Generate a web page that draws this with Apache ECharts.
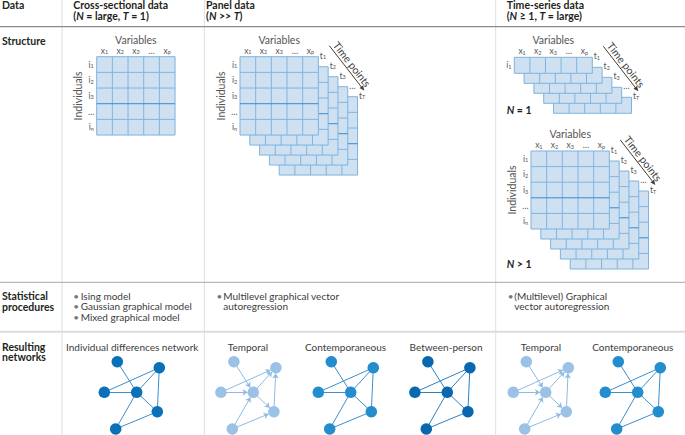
<!DOCTYPE html>
<html><head><meta charset="utf-8">
<script src="https://cdn.jsdelivr.net/npm/echarts@6/dist/echarts.min.js"></script>
<style>html,body{margin:0;padding:0;background:#fff}#c{width:685px;height:435px}</style>
</head><body><div id="c"></div>
<script>
// ---------------- data ----------------
const columnHeaders = ['Data', 'Cross-sectional data', 'Panel data', 'Time-series data'];
const columnConditions = ['', '({i|N} = large, {i|T} = 1)', '({i|N} >> {i|T})', '({i|N} ≥ 1, {i|T} = large)'];
const rowHeaders = ['Structure', 'Statistical\nprocedures', 'Resulting\nnetworks'];
const crossProcedures = ['Ising model', 'Gaussian graphical model', 'Mixed graphical model'];
const panelProcedures = ['Multilevel graphical vector', 'autoregression'];
const timeSeriesProcedures = ['(Multilevel) Graphical', 'vector autoregression'];
const variableLabels = ['x1', 'x2', 'x3', '…', 'xp'];
const individualLabels = ['i1', 'i2', 'i3', '…', 'in'];
const singleIndividualLabels = ['i1'];
const timeLabels = ['t1', 't2', 't3', '…', 'tT'];
const sampleLabels = ['{i|N} = 1', '{i|N} > 1'];
const networkTitles = ['Individual differences network', 'Temporal', 'Contemporaneous', 'Between-person', 'Temporal', 'Contemporaneous'];
const nodeNames = ['A', 'B', 'L', 'C', 'R', 'D'];
const nodeX = [-1.94, 2.26, -3.24, 0, 2.06, -2.1];
const nodeY = [3.06, 2.46, 0, 0, -1.94, -3.67];
const undirectedEdges = [['A','C'],['L','C'],['L','B'],['C','B'],['B','R'],['C','R'],['C','D'],['D','R']];
const temporalEdges = [['A','C'],['L','C'],['L','B'],['C','B'],['R','B'],['C','R'],['D','C'],['D','R']];

// ---------------- layout / style ----------------
const FONT = 'Lato, "Open Sans", sans-serif';
const INK = '#231f20';
const TXT = '#3c3c3c';
const LBL = '#555555';
const OFFX = 9.8, OFFY = 10;
const blocks = [
  {left: 96.7, top: 56.7, cw: 15.67, ch: 15.67, rows: individualLabels, layers: 1, individuals: true},
  {left: 240, top: 56.7, cw: 15.67, ch: 15.67, rows: individualLabels, layers: timeLabels.length, individuals: true},
  {left: 514.3, top: 57.3, cw: 15.6, ch: 16, rows: singleIndividualLabels, layers: timeLabels.length, individuals: false},
  {left: 531, top: 151, cw: 15.67, ch: 15.6, rows: individualLabels, layers: timeLabels.length, individuals: true}
];
const networkCenters = [136.7, 253.3, 350.7, 447.3, 545.7, 637.7];
const networkTitleX = [132.2, 248, 345.5, 446, 541, 632.8];
const networkStyles = [
  {edges: undirectedEdges, directed: false, node: '#0a71b9', edge: '#3a8ecf'},
  {edges: temporalEdges, directed: true, node: '#9cc1e6', edge: '#8dbbe5'},
  {edges: undirectedEdges, directed: false, node: '#238dcd', edge: '#3a90cf'},
  {edges: undirectedEdges, directed: false, node: '#0867af', edge: '#2a82c6'},
  {edges: temporalEdges, directed: true, node: '#9cc1e6', edge: '#8dbbe5'},
  {edges: undirectedEdges, directed: false, node: '#238dcd', edge: '#3a90cf'}
];

function subText(lab) { return lab.length === 2 ? lab[0] + '{s|' + lab[1] + '}' : lab; }
const subRich = {s: {fontSize: 5.5, fontFamily: FONT, fill: LBL, verticalAlign: 'bottom', lineHeight: 6, padding: [5, 0, 0, 0]}};

const grids = [], xAxes = [], yAxes = [], series = [];
blocks.forEach((b, gi) => {
  const cols = variableLabels.length, rows = b.rows.length, L = b.layers;
  const ox = OFFX / b.cw, oy = OFFY / b.ch;
  grids.push({left: b.left, top: b.top, width: cols * b.cw + (L - 1) * OFFX, height: rows * b.ch + (L - 1) * OFFY});
  xAxes.push({type: 'value', gridIndex: gi, min: 0, max: cols + (L - 1) * ox, show: false});
  yAxes.push({type: 'value', gridIndex: gi, min: 0, max: rows + (L - 1) * oy, inverse: true, show: false});
  const data = [];
  for (let k = L - 1; k >= 0; k--) data.push([k]);
  series.push({
    type: 'custom', coordinateSystem: 'cartesian2d', xAxisIndex: gi, yAxisIndex: gi,
    silent: true, clip: false, animation: false, data,
    renderItem: (params, api) => {
      const k = api.value(0);
      const zb = (L - k) * 20;
      const dx = k * ox, dy = k * oy;
      const p0 = api.coord([dx, dy]);
      const p1 = api.coord([dx + cols, dy + rows]);
      const ch = [];
      ch.push({type: 'rect', z2: zb, shape: {x: p0[0], y: p0[1], width: p1[0] - p0[0], height: p1[1] - p0[1]},
        style: {fill: '#cfe0f1', stroke: '#7db3df', lineWidth: 1}});
      for (let c = 1; c < cols; c++) {
        const a = api.coord([dx + c, dy]), e = api.coord([dx + c, dy + rows]);
        ch.push({type: 'line', z2: zb + 1, shape: {x1: a[0], y1: a[1], x2: e[0], y2: e[1]}, style: {stroke: '#7fb5e0', lineWidth: 1}});
      }
      for (let r = 1; r < rows; r++) {
        const a = api.coord([dx, dy + r]), e = api.coord([dx + cols, dy + r]);
        ch.push({type: 'line', z2: zb + 2, shape: {x1: a[0], y1: a[1], x2: e[0], y2: e[1]},
          style: {stroke: r === 3 ? '#3a89cc' : '#7fb5e0', lineWidth: 1}});
      }
      if (L > 1) {
        ch.push({type: 'text', z2: zb + 3, x: p1[0] + 1.5, y: p0[1] - 1,
          style: {text: subText(timeLabels[k]), font: '8.5px ' + FONT, fill: LBL, align: 'left', verticalAlign: 'middle', rich: subRich}});
      }
      if (k === 0) {
        ch.push({type: 'text', z2: 200, x: (p0[0] + p1[0]) / 2, y: p0[1] - 17,
          style: {text: 'Variables', font: '10.5px ' + FONT, fill: LBL, align: 'center', verticalAlign: 'middle'}});
        variableLabels.forEach((v, c) => {
          const q = api.coord([c + 0.5, 0]);
          ch.push({type: 'text', z2: 200, x: q[0], y: q[1] - 6,
            style: {text: subText(v), font: '8.5px ' + FONT, fill: LBL, align: 'center', verticalAlign: 'middle', rich: subRich}});
        });
        b.rows.forEach((v, r) => {
          const q = api.coord([0, r + 0.5]);
          ch.push({type: 'text', z2: 200, x: q[0] - 5.5, y: q[1],
            style: {text: subText(v), font: '8.5px ' + FONT, fill: LBL, align: 'center', verticalAlign: 'middle', rich: subRich}});
        });
        if (b.individuals) {
          ch.push({type: 'text', z2: 200, x: p0[0] - 19, y: (p0[1] + p1[1]) / 2, rotation: Math.PI / 2,
            style: {text: 'Individuals', font: '10.5px ' + FONT, fill: LBL, align: 'center', verticalAlign: 'middle'}});
        }
        if (L > 1) {
          const sx = p1[0] + 11, sy = p0[1] - 11, ex = p1[0] + 46, ey = p0[1] + 34;
          const ang = Math.atan2(ey - sy, ex - sx);
          const ux = Math.cos(ang), uy = Math.sin(ang);
          ch.push({type: 'line', z2: 200, shape: {x1: sx, y1: sy, x2: ex - ux * 3, y2: ey - uy * 3}, style: {stroke: '#3d3d3d', lineWidth: 1}});
          ch.push({type: 'polygon', z2: 200, shape: {points: [[ex, ey], [ex - ux * 5 - uy * 2.2, ey - uy * 5 + ux * 2.2], [ex - ux * 5 + uy * 2.2, ey - uy * 5 - ux * 2.2]]}, style: {fill: '#3d3d3d'}});
          const mx = (sx + ex) / 2 + uy * 6.5, my = (sy + ey) / 2 - ux * 6.5;
          ch.push({type: 'text', z2: 200, x: mx, y: my, rotation: -ang,
            style: {text: 'Time points', font: '10.5px ' + FONT, fill: '#3d3d3d', align: 'center', verticalAlign: 'middle'}});
        }
      }
      return {type: 'group', children: ch};
    }
  });
});

networkCenters.forEach((cx, ni) => {
  const gi = blocks.length + ni;
  const st = networkStyles[ni];
  grids.push({left: cx - 40, top: 352.3, width: 80, height: 80});
  xAxes.push({type: 'value', gridIndex: gi, min: -4, max: 4, show: false});
  yAxes.push({type: 'value', gridIndex: gi, min: -4, max: 4, show: false});
  series.push({
    type: 'graph', coordinateSystem: 'cartesian2d', xAxisIndex: gi, yAxisIndex: gi,
    silent: true, animation: false, symbolSize: 11.5,
    edgeSymbol: st.directed ? ['none', 'arrow'] : ['none', 'none'], edgeSymbolSize: [0, 5],
    itemStyle: {color: st.node},
    lineStyle: {color: st.edge, width: 1, opacity: 1, curveness: 0},
    label: {show: false},
    data: nodeNames.map((n, i) => ({name: n, value: [nodeX[i], nodeY[i]]})),
    links: st.edges.map(e => ({source: e[0], target: e[1]}))
  });
});

// ---------------- table graphics ----------------
const g = [];
function txt(x, y, text, o) {
  g.push({type: 'text', x, y, silent: true, style: Object.assign({text, font: '10px ' + FONT, fill: TXT, align: 'left', verticalAlign: 'middle'}, o || {})});
}
function ln(x1, y1, x2, y2, color, w) {
  g.push({type: 'line', silent: true, shape: {x1, y1, x2, y2}, style: {stroke: color, lineWidth: w}});
}
[62, 204.3, 495.7].forEach(x => ln(x, 0, x, 435, '#dedede', 1));
ln(0, 26.7, 685, 26.7, '#8c8c8c', 1.2);
ln(0, 282.3, 685, 282.3, '#a8a8a8', 1);
ln(0, 331.8, 685, 331.8, '#dcdcdc', 2);

const headerX = [2, 73.3, 206, 506.7];
const boldRich = {i: {fontStyle: 'italic', fontWeight: 'bold', fontFamily: FONT, fontSize: 10.5, fill: INK}};
columnHeaders.forEach((h, i) => {
  txt(headerX[i], 5.3, h, {font: 'bold 10.5px ' + FONT, fill: INK});
  if (columnConditions[i]) txt(headerX[i], 16.2, columnConditions[i], {font: 'bold 10.5px ' + FONT, fill: INK, rich: boldRich});
});
const rowY = [41, 301.3, 352];
rowHeaders.forEach((h, i) => txt(2, rowY[i], h, {font: 'bold 10.5px ' + FONT, fill: INK, lineHeight: 10.7}));

crossProcedures.forEach((p, i) => { txt(73.3, 295.8 + i * 10.6, '•', {fill: '#777'}); txt(80.7, 295.8 + i * 10.6, p); });
panelProcedures.forEach((p, i) => { if (i === 0) txt(216.5, 295.8, '•', {fill: '#777'}); txt(223.3, 295.8 + i * 10.6, p); });
timeSeriesProcedures.forEach((p, i) => { if (i === 0) txt(507.7, 295.8, '•', {fill: '#777'}); txt(514.3, 295.8 + i * 10.6, p); });

const sampleY = [109.5, 264.3];
sampleLabels.forEach((s, i) => txt(506.7, sampleY[i], s, {font: 'bold 10.5px ' + FONT, fill: INK, rich: boldRich}));
networkTitles.forEach((t, i) => txt(networkTitleX[i], 346.7, t, {align: 'center', font: '10px ' + FONT}));

const chart = echarts.init(document.getElementById('c'), null, {renderer: 'svg', width: 685, height: 435});
chart.setOption({
  animation: false,
  backgroundColor: '#ffffff',
  grid: grids, xAxis: xAxes, yAxis: yAxes,
  series,
  graphic: {elements: g}
});
</script>
</body></html>
